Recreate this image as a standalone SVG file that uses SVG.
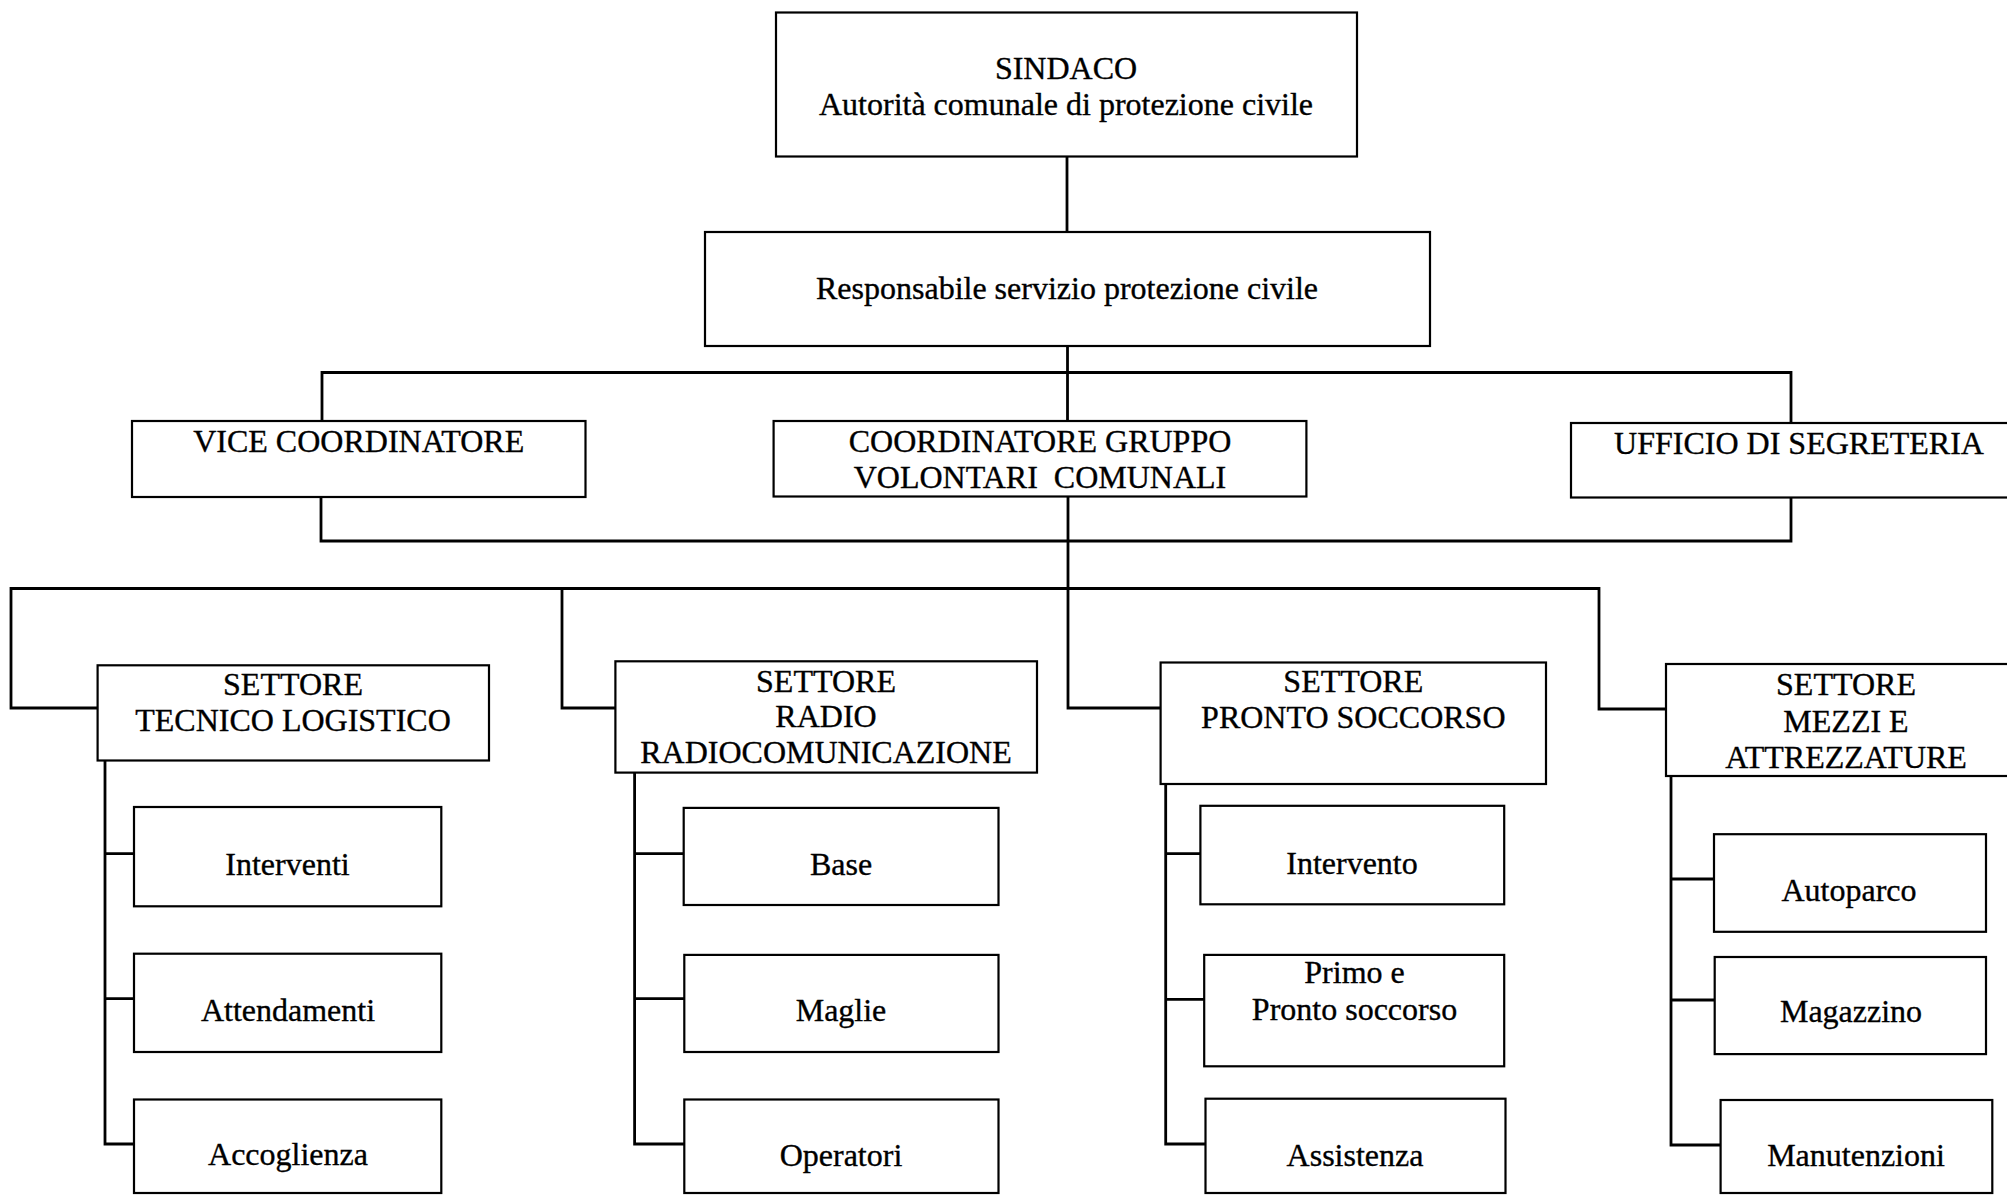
<svg xmlns="http://www.w3.org/2000/svg" width="2007" height="1195" viewBox="0 0 2007 1195">
<style>
.box{fill:#fff;stroke:#000;stroke-width:2.2}
.t{font-family:"Liberation Serif","Times New Roman",serif;font-size:32px;fill:#000;stroke:#000;stroke-width:0.35;text-anchor:middle}
.c{fill:none;stroke:#000;stroke-width:2.8;stroke-linejoin:miter;stroke-linecap:square}
</style>
<rect width="2007" height="1195" fill="#fff"/>
<g id="connectors">
<path class="c" d="M1067,156 V232"/>
<path class="c" d="M1067.5,346 V421"/>
<path class="c" d="M322,421 V372.5 H1791 V423"/>
<path class="c" d="M321,497 V541 H1791 V497"/>
<path class="c" d="M1068,497 V708 H1160"/>
<path class="c" d="M98,708 H11 V588.5 H1599 V709 H1666"/>
<path class="c" d="M562,588.5 V708 H615"/>
<path class="c" d="M105,760 V1144 H134 M105,853.6 H134 M105,998.6 H134"/>
<path class="c" d="M634.6,772 V1144 H684 M634.6,853.6 H684 M634.6,998.6 H684"/>
<path class="c" d="M1165.7,784 V1144 H1205 M1165.7,853.6 H1200 M1165.7,999.4 H1204"/>
<path class="c" d="M1671,776 V1145 H1720 M1671,879 H1714 M1671,1000 H1714"/>
</g>
<g id="sindaco"><rect class="box" x="776" y="12.5" width="581" height="144"/><text class="t" x="1066" y="79">SINDACO</text><text class="t" x="1066" y="115">Autorità comunale di protezione civile</text></g>
<g id="responsabile"><rect class="box" x="705" y="232" width="725" height="114"/><text class="t" x="1067" y="299">Responsabile servizio protezione civile</text></g>
<g id="vice"><rect class="box" x="132" y="421" width="453.5" height="76"/><text class="t" x="358.7" y="452">VICE COORDINATORE</text></g>
<g id="coordinatore"><rect class="box" x="773.6" y="421" width="532.8" height="75.5"/><text class="t" x="1040" y="452">COORDINATORE GRUPPO</text><text class="t" x="1040" y="488" xml:space="preserve">VOLONTARI  COMUNALI</text></g>
<g id="ufficio"><rect class="box" x="1571" y="423" width="450" height="74.5"/><text class="t" x="1799" y="453.5">UFFICIO DI SEGRETERIA</text></g>
<g id="tecnico"><rect class="box" x="97.6" y="665.3" width="391.4" height="95.2"/><text class="t" x="293" y="695">SETTORE</text><text class="t" x="293" y="731.3">TECNICO LOGISTICO</text></g>
<g id="radio"><rect class="box" x="615.4" y="661.3" width="421.6" height="111.3"/><text class="t" x="826" y="691.6">SETTORE</text><text class="t" x="826" y="727">RADIO</text><text class="t" x="826" y="763.3">RADIOCOMUNICAZIONE</text></g>
<g id="pronto"><rect class="box" x="1160.6" y="662.5" width="385.4" height="121.5"/><text class="t" x="1353.3" y="691.6">SETTORE</text><text class="t" x="1353.3" y="728">PRONTO SOCCORSO</text></g>
<g id="mezzi"><rect class="box" x="1666" y="664" width="360" height="112"/><text class="t" x="1846" y="695">SETTORE</text><text class="t" x="1846" y="731.7">MEZZI E</text><text class="t" x="1846" y="768.3">ATTREZZATURE</text></g>
<g id="interventi"><rect class="box" x="134" y="807" width="307.3" height="99.3"/><text class="t" x="287.5" y="875">Interventi</text></g>
<g id="attendamenti"><rect class="box" x="134" y="953.7" width="307.3" height="98.3"/><text class="t" x="288" y="1020.5">Attendamenti</text></g>
<g id="accoglienza"><rect class="box" x="134" y="1099.5" width="307.3" height="93.5"/><text class="t" x="288" y="1165">Accoglienza</text></g>
<g id="base"><rect class="box" x="683.7" y="807.9" width="314.8" height="97.1"/><text class="t" x="841" y="875">Base</text></g>
<g id="maglie"><rect class="box" x="684.3" y="954.9" width="314.2" height="97.1"/><text class="t" x="841" y="1021">Maglie</text></g>
<g id="operatori"><rect class="box" x="684.3" y="1099.5" width="314.2" height="93.5"/><text class="t" x="841" y="1165.5">Operatori</text></g>
<g id="intervento"><rect class="box" x="1200.4" y="805.8" width="303.8" height="98.5"/><text class="t" x="1352" y="874">Intervento</text></g>
<g id="primo"><rect class="box" x="1204.2" y="954.9" width="300" height="111.4"/><text class="t" x="1354.5" y="983">Primo e</text><text class="t" x="1354.5" y="1019.7">Pronto soccorso</text></g>
<g id="assistenza"><rect class="box" x="1205.5" y="1098.7" width="300" height="94.3"/><text class="t" x="1355" y="1165.5">Assistenza</text></g>
<g id="autoparco"><rect class="box" x="1714" y="834.2" width="272" height="97.6"/><text class="t" x="1849" y="901">Autoparco</text></g>
<g id="magazzino"><rect class="box" x="1714.7" y="957" width="271.3" height="97.1"/><text class="t" x="1851" y="1021.7">Magazzino</text></g>
<g id="manutenzioni"><rect class="box" x="1720.6" y="1100" width="271.7" height="93"/><text class="t" x="1856" y="1165.5">Manutenzioni</text></g>
</svg>
